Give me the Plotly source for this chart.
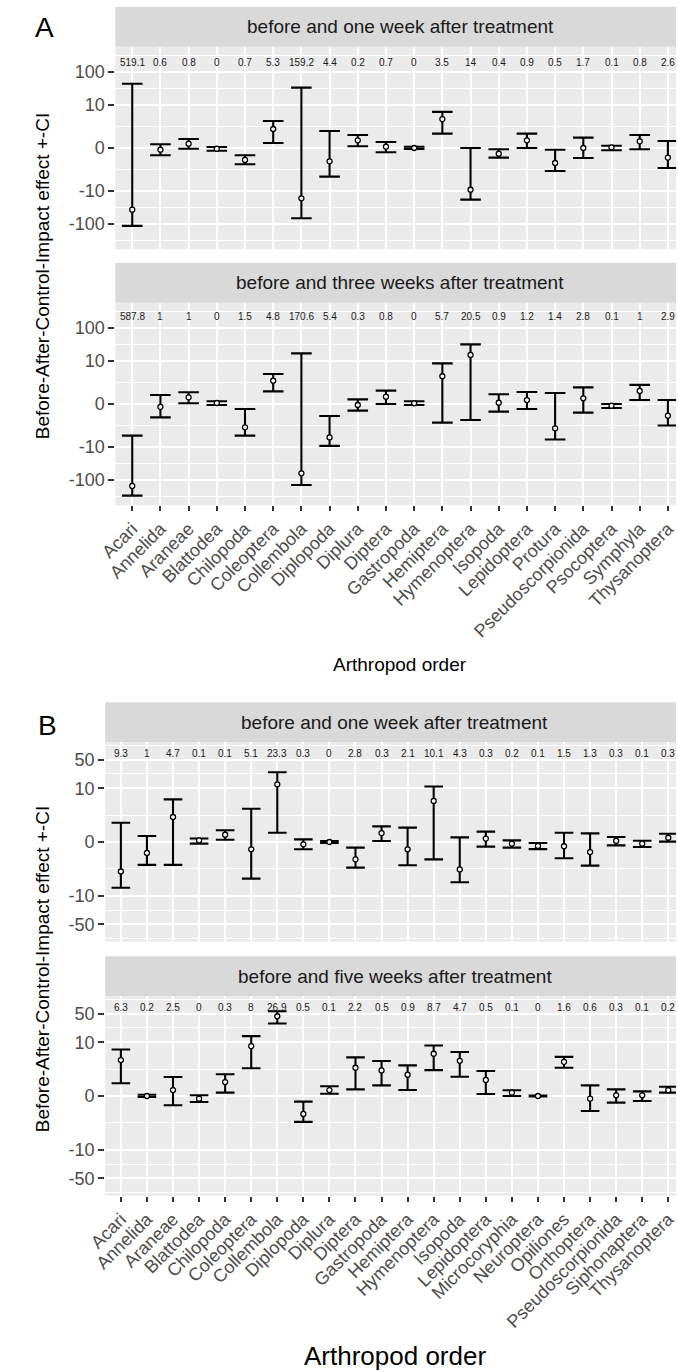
import numpy as np
import plotly.graph_objects as go

# ---------------- data ----------------
cats_A = ["Acari", "Annelida", "Araneae", "Blattodea", "Chilopoda", "Coleoptera", "Collembola",
          "Diplopoda", "Diplura", "Diptera", "Gastropoda", "Hemiptera", "Hymenoptera", "Isopoda",
          "Lepidoptera", "Protura", "Pseudoscorpionida", "Psocoptera", "Symphyla", "Thysanoptera"]
cats_B = ["Acari", "Annelida", "Araneae", "Blattodea", "Chilopoda", "Coleoptera", "Collembola",
          "Diplopoda", "Diplura", "Diptera", "Gastropoda", "Hemiptera", "Hymenoptera", "Isopoda",
          "Lepidoptera", "Microcoryphia", "Neuroptera", "Opiliones", "Orthoptera",
          "Pseudoscorpionida", "Siphonaptera", "Thysanoptera"]

# A, before and one week after treatment
a1_est = [-36.9, -0.12, 0.31, -0.05, -0.93, 1.75, -16.7, -1.07, 0.56, 0.09, 0.0, 3.7, -9.2, -0.41,
          0.56, -1.25, 0.0, 0.05, 0.48, -0.72]
a1_lo = [-115, -0.53, -0.05, -0.19, -1.40, 0.36, -67.6, -3.63, 0.12, -0.30, -0.07, 1.18, -18.3, -0.72,
         0.0, -2.38, -0.76, -0.16, -0.09, -1.9]
a1_hi = [44.5, 0.26, 0.67, 0.07, -0.53, 3.2, 33.7, 1.49, 1.04, 0.43, 0.09, 6.2, 0.0, -0.09,
         1.18, -0.12, 0.79, 0.16, 1.04, 0.51]
a1_n = ["519.1", "0.6", "0.8", "0", "0.7", "5.3", "159.2", "4.4", "0.2", "0.7", "0", "3.5", "14",
        "0.4", "0.9", "0.5", "1.7", "0.1", "0.8", "2.6"]

# A, before and three weeks after treatment
a2_est = [-152, -0.2, 0.48, 0.07, -2.45, 2.44, -63, -5.1, -0.07, 0.53, 0.05, 3.4, 15.3, 0.09,
          0.28, -2.64, 0.41, -0.12, 1.04, -0.91]
a2_lo = [-300, -1.07, 0.05, -0.07, -4.5, 1.0, -142, -9.3, -0.48, 0.0, -0.07, -1.7, -1.37, -0.56,
         -0.36, -5.9, -0.64, -0.28, 0.28, -2.14]
a2_hi = [-4.5, 0.67, 0.91, 0.19, -0.36, 4.0, 17.1, -0.94, 0.33, 1.07, 0.19, 8.5, 32, 0.73,
         0.94, 0.85, 1.44, 0.0, 1.77, 0.28]
a2_n = ["587.8", "1", "1", "0", "1.5", "4.8", "170.6", "5.4", "0.3", "0.8", "0", "5.7", "20.5",
        "0.9", "1.2", "1.4", "2.8", "0.1", "1", "2.9"]

# B, before and one week after treatment
b1_est = [-2.5, -0.65, 1.9, 0.09, 0.42, -0.42, 12.5, -0.13, 0.0, -1.13, 0.52, -0.42, 4.9, -2.2,
          0.19, -0.09, -0.22, -0.24, -0.59, 0.06, -0.09, 0.24]
b1_lo = [-6.4, -1.66, -1.66, -0.09, 0.13, -3.8, 0.54, -0.42, -0.06, -1.97, 0.06, -1.70, -1.13, -4.7,
         -0.26, -0.32, -0.41, -1.04, -1.74, -0.19, -0.28, 0.02]
b1_hi = [1.3, 0.34, 5.35, 0.20, 0.70, 3.13, 24.7, 0.15, 0.06, -0.32, 0.99, 0.89, 11.1, 0.26,
         0.61, 0.09, -0.06, 0.54, 0.50, 0.28, 0.07, 0.48]
b1_n = ["9.3", "1", "4.7", "0.1", "0.1", "5.1", "23.3", "0.3", "0", "2.8", "0.3", "2.1", "10.1",
        "4.3", "0.3", "0.2", "0.1", "1.5", "1.3", "0.3", "0.1", "0.3"]

# B, before and five weeks after treatment
b2_est = [3.66, 0.0, 0.34, -0.15, 0.86, 8.1, 43, -1.18, 0.34, 2.32, 1.97, 1.49, 5.25, 3.5,
          1.02, 0.19, 0.0, 3.3, -0.15, 0.04, 0.04, 0.33]
b2_lo = [0.77, -0.06, -0.54, -0.34, 0.19, 2.25, 28.7, -2.0, 0.13, 0.38, 0.63, 0.34, 2.01, 1.3,
         0.11, 0.0, -0.03, 2.32, -0.94, -0.38, -0.28, 0.19]
b2_hi = [6.7, 0.07, 1.27, 0.04, 1.54, 14.2, 57, -0.32, 0.57, 4.27, 3.45, 2.67, 8.4, 5.8,
         1.9, 0.33, 0.03, 4.4, 0.63, 0.38, 0.26, 0.54]
b2_n = ["6.3", "0.2", "2.5", "0", "0.3", "8", "26.9", "0.5", "0.1", "2.2", "0.5", "0.9", "8.7",
        "4.7", "0.5", "0.1", "0", "1.6", "0.6", "0.3", "0.1", "0.2"]

ticks_A = [-100, -10, 0, 10, 100]
ticks_B = [-50, -10, 0, 10, 50]
strip_A = ["before and one week after treatment", "before and three weeks after treatment"]
strip_B = ["before and one week after treatment", "before and five weeks after treatment"]

# ---------------- layout geometry (px) ----------------
W, H = 678, 1371
FONT = "Liberation Sans"


def fx(p):
    return p / W


def fy(p):
    return 1 - p / H


panels = [
    dict(cats=cats_A, est=a1_est, lo=a1_lo, hi=a1_hi, n=a1_n, ticks=ticks_A, strip=strip_A[0],
         top=46.7, bot=249.3, first=117.7, step=29.05, half=7.07, cap=10.3, noff=16, xlabels=False),
    dict(cats=cats_A, est=a2_est, lo=a2_lo, hi=a2_hi, n=a2_n, ticks=ticks_A, strip=strip_A[1],
         top=302.7, bot=505.3, first=117.7, step=29.05, half=7.07, cap=10.3, noff=14, xlabels=True),
    dict(cats=cats_B, est=b1_est, lo=b1_lo, hi=b1_hi, n=b1_n, ticks=ticks_B, strip=strip_B[0],
         top=742.3, bot=941.7, first=106.0, step=26.86, half=5.57, cap=9.3, noff=11, xlabels=False),
    dict(cats=cats_B, est=b2_est, lo=b2_lo, hi=b2_hi, n=b2_n, ticks=ticks_B, strip=strip_B[1],
         top=996.3, bot=1195.7, first=106.0, step=26.86, half=5.57, cap=9.3, noff=11, xlabels=True),
]

fig = go.Figure()
shapes = []
annotations = []

for i, p in enumerate(panels):
    k = "" if i == 0 else str(i + 1)
    xl = p["first"] - 0.6 * p["step"]
    xr_idx = (W - p["first"]) / p["step"]
    full_right = p["first"] + (len(p["cats"]) - 1 + 0.6) * p["step"]

    est_t = np.arcsinh(np.array(p["est"], dtype=float))
    lo_t = np.arcsinh(np.array(p["lo"], dtype=float))
    hi_t = np.arcsinh(np.array(p["hi"], dtype=float))

    fig.add_trace(go.Scatter(
        x=p["cats"], y=est_t, mode="markers",
        xaxis="x" + k, yaxis="y" + k,
        marker=dict(symbol="circle", size=5, color="white", line=dict(color="black", width=1.3)),
        error_y=dict(type="data", symmetric=False, array=hi_t - est_t, arrayminus=est_t - lo_t,
                     color="black", thickness=2.1, width=p["cap"]),
        showlegend=False, hoverinfo="skip",
    ))

    tv = np.arcsinh(np.array(p["ticks"], dtype=float))
    step_lo = tv[1] - tv[0]
    step_hi = tv[-1] - tv[-2]
    ext = np.concatenate([[tv[0] - step_lo], tv, [tv[-1] + step_hi]])
    minor = [(a + b) / 2 for a, b in zip(ext[:-1], ext[1:])]
    minor = [m for m in minor if -p["half"] <= m <= p["half"]]

    fig.layout["xaxis" + k] = dict(
        domain=[fx(xl), 1.0], anchor="y" + k, type="category",
        categoryorder="array", categoryarray=p["cats"],
        range=[-0.6, xr_idx],
        showgrid=True, gridcolor="white", gridwidth=1.8, zeroline=False, showline=False,
        ticks="outside" if p["xlabels"] else "", ticklen=5, tickwidth=2, tickcolor="#333333",
        showticklabels=p["xlabels"], tickangle=-45,
        tickfont=dict(family=FONT, size=18, color="#4D4D4D"),
    )
    fig.layout["yaxis" + k] = dict(
        domain=[fy(p["bot"]), fy(p["top"])], anchor="x" + k,
        range=[-p["half"], p["half"]],
        tickvals=list(tv), ticktext=[str(t) for t in p["ticks"]],
        showgrid=True, gridcolor="white", gridwidth=1.8, zeroline=False, showline=False,
        ticks="outside", ticklen=6, tickwidth=2, tickcolor="#333333",
        tickfont=dict(family=FONT, size=18, color="#4D4D4D"),
        minor=dict(tickvals=minor, showgrid=True, gridcolor="white", gridwidth=0.9, ticks=""),
    )

    # strip
    s_top = p["top"] - 40
    shapes.append(dict(type="rect", xref="paper", yref="paper", x0=fx(xl), x1=1.0,
                       y0=fy(p["top"]), y1=fy(s_top), fillcolor="#D9D9D9", line=dict(width=0),
                       layer="below"))
    annotations.append(dict(text=p["strip"], xref="paper", yref="paper",
                            x=fx((xl + full_right) / 2), y=fy(p["top"] - 20),
                            xanchor="center", yanchor="middle", showarrow=False,
                            font=dict(family=FONT, size=19, color="#1A1A1A")))
    # count labels
    for c, t in zip(p["cats"], p["n"]):
        annotations.append(dict(text=t, x=c, xref="x" + k, yref="y" + k + " domain", y=1,
                                yshift=-p["noff"], xanchor="center", yanchor="middle",
                                showarrow=False, font=dict(family=FONT, size=10, color="#1A1A1A")))

# titles and panel letters
ytitle = "Before-After-Control-Impact effect +-CI"
annotations += [
    dict(text="A", x=fx(27), y=fy(28), xref="paper", yref="paper", showarrow=False,
         xanchor="center", yanchor="middle", font=dict(family=FONT, size=28, color="black")),
    dict(text="B", x=fx(30), y=fy(725), xref="paper", yref="paper", showarrow=False,
         xanchor="center", yanchor="middle", font=dict(family=FONT, size=28, color="black")),
    dict(text=ytitle, x=fx(25), y=fy(276), xref="paper", yref="paper", showarrow=False,
         textangle=-90, xanchor="center", yanchor="middle",
         font=dict(family=FONT, size=19, color="black")),
    dict(text=ytitle, x=fx(25), y=fy(969), xref="paper", yref="paper", showarrow=False,
         textangle=-90, xanchor="center", yanchor="middle",
         font=dict(family=FONT, size=19, color="black")),
    dict(text="Arthropod order", x=fx(394), y=fy(664), xref="paper", yref="paper",
         showarrow=False, xanchor="center", yanchor="middle",
         font=dict(family=FONT, size=19, color="black")),
    dict(text="Arthropod order", x=fx(388), y=fy(1356), xref="paper", yref="paper",
         showarrow=False, xanchor="center", yanchor="middle",
         font=dict(family=FONT, size=26, color="black")),
]

fig.update_layout(
    width=W, height=H, margin=dict(l=0, r=0, t=0, b=0),
    paper_bgcolor="white", plot_bgcolor="#EBEBEB",
    shapes=shapes, annotations=annotations, showlegend=False,
    font=dict(family=FONT),
)

fig.write_html("out.html", config={"displayModeBar": False},
               post_script="document.body.style.margin='0';document.body.style.overflow='hidden';")
